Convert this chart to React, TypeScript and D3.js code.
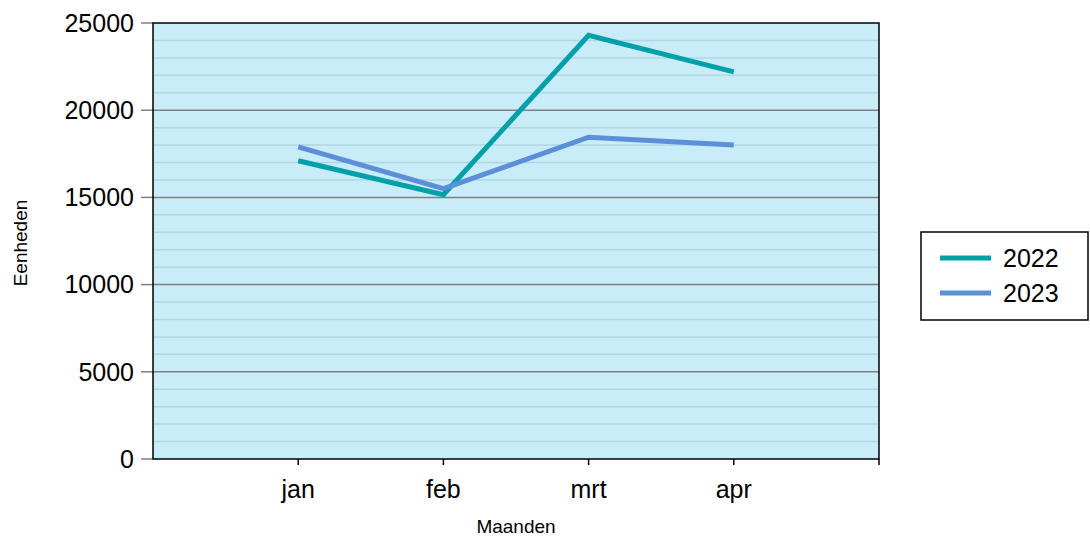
import React, { useEffect, useRef } from 'react'
import * as d3 from 'd3'

const months = ['jan', 'feb', 'mrt', 'apr']
const series2022 = [17100, 15150, 24300, 22200]
const series2023 = [17900, 15500, 18450, 18000]
const seriesNames = ['2022', '2023']
const seriesColors = ['#00a0a8', '#5b8fd8']
const yTicks = [0, 5000, 10000, 15000, 20000, 25000]

const W = 1090
const H = 540
const margin = { left: 153, right: 211, top: 23, bottom: 81 }

function App() {
    const ref = useRef<SVGSVGElement>(null)

    useEffect(() => {
        const svg = d3.select(ref.current)
        svg.selectAll('*').remove()
        const font = '"Liberation Sans", Arial, sans-serif'
        const bigFont = 25
        const smallFont = 19

        const innerW = W - margin.left - margin.right
        const innerH = H - margin.top - margin.bottom

        // categories sit on 1..4 of a 0..5 axis
        const x = d3.scaleLinear().domain([0, months.length + 1]).range([0, innerW])
        const y = d3.scaleLinear().domain([0, 25000]).range([innerH, 0])

        const g = svg.append('g').attr('transform', `translate(${margin.left},${margin.top})`)

        g.append('rect')
            .attr('width', innerW)
            .attr('height', innerH)
            .attr('fill', '#c9ecf9')

        // minor grid every 1000
        g.selectAll('.minor')
            .data(d3.range(1000, 25000, 1000).filter(v => v % 5000 !== 0))
            .enter().append('line')
            .attr('x1', 0).attr('x2', innerW)
            .attr('y1', d => y(d)).attr('y2', d => y(d))
            .attr('stroke', '#b1d7e3')
            .attr('stroke-width', 1.5)

        g.selectAll('.major')
            .data(yTicks.filter(v => v > 0 && v < 25000))
            .enter().append('line')
            .attr('x1', 0).attr('x2', innerW)
            .attr('y1', d => y(d)).attr('y2', d => y(d))
            .attr('stroke', '#808080')
            .attr('stroke-width', 1.5)

        // y axis ticks + labels
        g.selectAll('.ytick')
            .data(yTicks)
            .enter().append('line')
            .attr('x1', -12).attr('x2', 0)
            .attr('y1', d => y(d)).attr('y2', d => y(d))
            .attr('stroke', '#808080')
            .attr('stroke-width', 1.5)

        g.selectAll('.ylab')
            .data(yTicks)
            .enter().append('text')
            .attr('x', -19)
            .attr('y', d => y(d))
            .attr('dy', '0.35em')
            .attr('text-anchor', 'end')
            .attr('font-family', font)
            .attr('font-size', bigFont)
            .text(d => String(d))

        // x axis ticks
        g.selectAll('.xtick')
            .data(d3.range(1, months.length + 2))
            .enter().append('line')
            .attr('x1', d => x(d)).attr('x2', d => x(d))
            .attr('y1', innerH).attr('y2', innerH + 6)
            .attr('stroke', '#000')
            .attr('stroke-width', 1.5)

        g.selectAll('.xlab')
            .data(months)
            .enter().append('text')
            .attr('x', (_d, i) => x(i + 1))
            .attr('y', innerH + 39)
            .attr('text-anchor', 'middle')
            .attr('font-family', font)
            .attr('font-size', bigFont)
            .text(d => d)

        // plot frame
        g.append('rect')
            .attr('width', innerW)
            .attr('height', innerH)
            .attr('fill', 'none')
            .attr('stroke', '#000')
            .attr('stroke-width', 1.5)

        const line = d3.line<number>()
            .x((_d, i) => x(i + 1))
            .y(d => y(d))

        ;[series2022, series2023].forEach((s, i) => {
            g.append('path')
                .datum(s)
                .attr('d', line)
                .attr('fill', 'none')
                .attr('stroke', seriesColors[i])
                .attr('stroke-width', 5)
                .attr('stroke-linejoin', 'miter')
        })

        // axis titles
        svg.append('text')
            .attr('x', margin.left + x(2.5))
            .attr('y', 533)
            .attr('text-anchor', 'middle')
            .attr('font-family', font)
            .attr('font-size', smallFont)
            .text('Maanden')

        svg.append('text')
            .attr('transform', `translate(27, ${margin.top + innerH / 2 + 2}) rotate(-90)`)
            .attr('text-anchor', 'middle')
            .attr('font-family', font)
            .attr('font-size', smallFont)
            .text('Eenheden')

        // legend
        const lg = svg.append('g').attr('transform', 'translate(921,232)')
        lg.append('rect')
            .attr('width', 167)
            .attr('height', 88)
            .attr('fill', '#fff')
            .attr('stroke', '#000')
            .attr('stroke-width', 1.5)
        seriesNames.forEach((name, i) => {
            const ly = 26 + i * 35
            lg.append('line')
                .attr('x1', 19).attr('x2', 70)
                .attr('y1', ly).attr('y2', ly)
                .attr('stroke', seriesColors[i])
                .attr('stroke-width', 5)
            lg.append('text')
                .attr('x', 82)
                .attr('y', ly)
                .attr('dy', '0.35em')
                .attr('font-family', font)
                .attr('font-size', bigFont)
                .text(name)
        })
    }, [])

    return <svg ref={ref} width={W} height={H} style={{ position: 'absolute', left: 0, top: 0 }} />
}

export default App
